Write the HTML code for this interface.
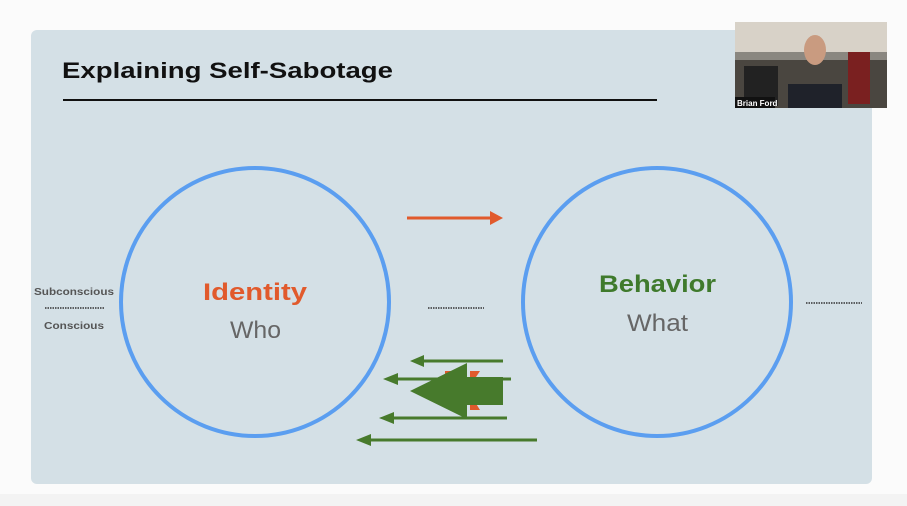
<!DOCTYPE html>
<html><head><meta charset="utf-8"><style>
html,body{margin:0;padding:0;width:907px;height:506px;overflow:hidden;background:#fbfbfb;font-family:"Liberation Sans",sans-serif}
</style></head><body>
<svg width="907" height="506" viewBox="0 0 907 506" xmlns="http://www.w3.org/2000/svg" style="position:absolute;left:0;top:0">
<rect x="0" y="494" width="907" height="12" fill="#f3f3f3"/>
<rect x="31" y="30" width="841" height="454" rx="6" fill="#d4e0e6"/>
<text x="62" y="78" font-size="22" font-weight="bold" fill="#111" textLength="331" lengthAdjust="spacingAndGlyphs">Explaining Self-Sabotage</text>
<line x1="63" y1="100" x2="657" y2="100" stroke="#111" stroke-width="2"/>
<circle cx="255" cy="302" r="134" fill="none" stroke="#5b9ef0" stroke-width="4"/>
<circle cx="657" cy="302" r="134" fill="none" stroke="#5b9ef0" stroke-width="4"/>
<text x="203" y="300" font-size="24" font-weight="bold" fill="#e15a2c" textLength="104" lengthAdjust="spacingAndGlyphs">Identity</text>
<text x="230" y="338" font-size="24" fill="#666" textLength="51" lengthAdjust="spacingAndGlyphs">Who</text>
<text x="599" y="292" font-size="24" font-weight="bold" fill="#3f7a2c" textLength="117" lengthAdjust="spacingAndGlyphs">Behavior</text>
<text x="627" y="331" font-size="24" fill="#666" textLength="61" lengthAdjust="spacingAndGlyphs">What</text>
<text x="34" y="295" font-size="10" font-weight="bold" fill="#555" textLength="80" lengthAdjust="spacingAndGlyphs">Subconscious</text>
<text x="44" y="329" font-size="10" font-weight="bold" fill="#555" textLength="60" lengthAdjust="spacingAndGlyphs">Conscious</text>
<line x1="45" y1="308" x2="104" y2="308" stroke="#333" stroke-width="1.5" stroke-dasharray="1.5,1"/>
<line x1="428" y1="308" x2="484" y2="308" stroke="#333" stroke-width="1.5" stroke-dasharray="1.5,1"/>
<line x1="806" y1="303" x2="862" y2="303" stroke="#333" stroke-width="1.5" stroke-dasharray="1.5,1"/>
<line x1="407" y1="218" x2="492" y2="218" stroke="#e15a2c" stroke-width="3"/>
<polygon points="503,218 490,211 490,225" fill="#e15a2c"/>
<polygon points="445,371 463,371 463,408 445,408" fill="#e15a2c"/>
<polygon points="470,371 480,371 470,386" fill="#e15a2c"/>
<polygon points="470,394 480,410 470,410" fill="#e15a2c"/>
<g stroke="#477a2c" stroke-width="3">
<line x1="420" y1="361" x2="503" y2="361"/>
<line x1="395" y1="379" x2="511" y2="379"/>
<line x1="390" y1="418" x2="507" y2="418"/>
<line x1="368" y1="440" x2="537" y2="440"/>
</g>
<g fill="#477a2c">
<polygon points="410,361 424,355 424,367"/>
<polygon points="383,379 398,373 398,385"/>
<polygon points="379,418 394,412 394,424"/>
<polygon points="356,440 371,434 371,446"/>
<polygon points="410,391 467,363 467,377 503,377 503,405 467,405 467,419"/>
</g>
<rect x="735" y="22" width="152" height="86" fill="#4a4640"/>
<rect x="735" y="22" width="152" height="30" fill="#d8d2c8"/>
<rect x="735" y="52" width="152" height="8" fill="#8a8780"/>
<rect x="744" y="66" width="34" height="40" fill="#222"/>
<rect x="848" y="52" width="22" height="52" fill="#7a2020"/>
<rect x="788" y="84" width="54" height="24" fill="#1f222a"/>
<ellipse cx="815" cy="50" rx="11" ry="15" fill="#c99b80"/>
<rect x="735" y="97" width="40" height="11" fill="#111"/>
<text x="737" y="106" font-size="8" font-weight="bold" fill="#fff">Brian Ford</text>
</svg>
</body></html>
